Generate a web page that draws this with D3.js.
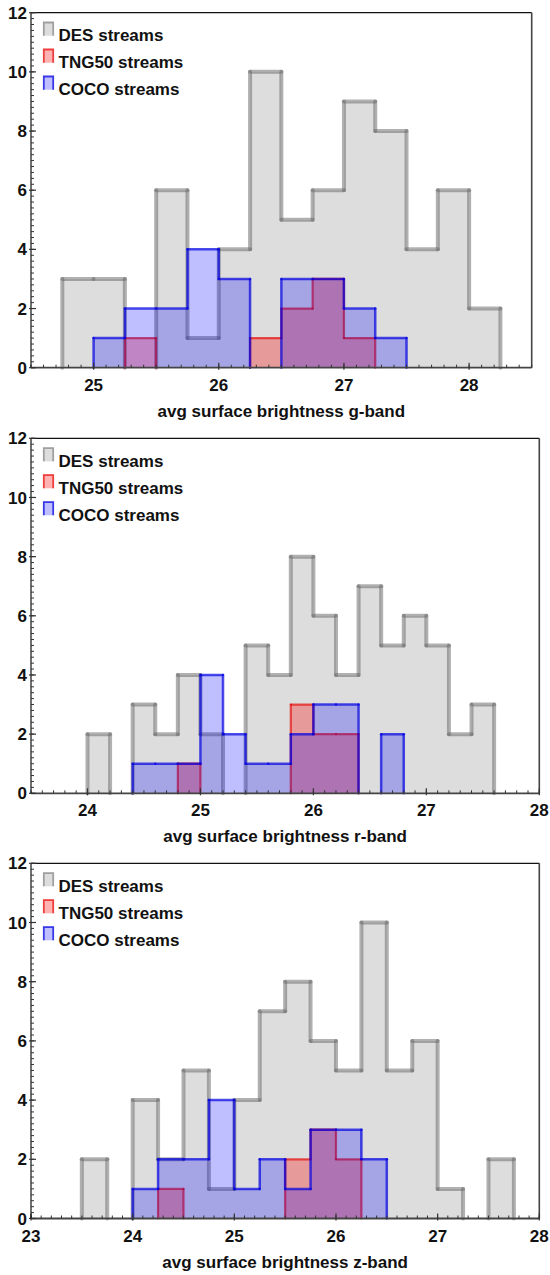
<!DOCTYPE html>
<html>
<head>
<meta charset="utf-8">
<script src="https://cdn.jsdelivr.net/npm/d3@7/dist/d3.min.js"></script>
<style>
  html, body { margin: 0; padding: 0; background: #fff; }
  svg { display: block; }
  text { font-family: "Liberation Sans", Arial, sans-serif; font-weight: bold; fill: #111; }
</style>
</head>
<body>
<svg id="chart" width="550" height="1275"></svg>
<script>
// ---- histogram data: bin lower edges (last entry closes the final bin) and counts ----
const gEdges = [24.75, 25.0, 25.25, 25.5, 25.75, 26.0, 26.25, 26.5, 26.75, 27.0, 27.25, 27.5, 27.75, 28.0, 28.25];
const gDES   = [3, 3, 0, 6, 1, 4, 10, 5, 6, 9, 8, 4, 6, 2];
const gTNG50 = [0, 0, 1, 0, 0, 0, 1, 2, 3, 1, 0, 0, 0, 0];
const gCOCO  = [0, 1, 2, 2, 4, 3, 0, 3, 3, 2, 1, 0, 0, 0];

const rEdges = [24.0, 24.2, 24.4, 24.6, 24.8, 25.0, 25.2, 25.4, 25.6, 25.8, 26.0, 26.2, 26.4, 26.6, 26.8, 27.0, 27.2, 27.4, 27.6];
const rDES   = [2, 0, 3, 2, 4, 2, 0, 5, 4, 8, 6, 4, 7, 5, 6, 5, 2, 3];
const rTNG50 = [0, 0, 0, 0, 1, 0, 0, 0, 0, 3, 2, 2, 0, 0, 0, 0, 0, 0];
const rCOCO  = [0, 0, 1, 1, 1, 4, 2, 1, 1, 2, 3, 3, 0, 2, 0, 0, 0, 0];

const zEdges = [23.5, 23.75, 24.0, 24.25, 24.5, 24.75, 25.0, 25.25, 25.5, 25.75, 26.0, 26.25, 26.5, 26.75, 27.0, 27.25, 27.5, 27.75];
const zDES   = [2, 0, 4, 2, 5, 1, 4, 7, 8, 6, 5, 10, 5, 6, 1, 0, 2];
const zTNG50 = [0, 0, 0, 1, 0, 0, 0, 0, 2, 3, 2, 0, 0, 0, 0, 0, 0];
const zCOCO  = [0, 0, 1, 2, 2, 4, 1, 2, 1, 3, 3, 2, 0, 0, 0, 0, 0];

const seriesNames = ["DES streams", "TNG50 streams", "COCO streams"];
const xTitles = ["avg surface brightness g-band", "avg surface brightness r-band", "avg surface brightness z-band"];
const xDomains = [[24.5, 28.5], [23.5, 28], [23, 28]];
const yDomain = [0, 12];

// ---- styles ----
const styles = [
  { fill: "rgba(128,128,128,0.27)", stroke: "rgba(100,100,100,0.5)", width: 4 },
  { fill: "rgba(255,0,0,0.30)",     stroke: "rgba(230,0,0,0.65)",    width: 2.2 },
  { fill: "rgba(0,0,255,0.25)",     stroke: "rgba(0,0,225,0.7)",     width: 2.5 }
];

// ---- panel layout ----
const panels = [
  { left: 31, right: 531.7, top: 12.7,  bottom: 367.7, edges: gEdges, series: [gDES, gTNG50, gCOCO] },
  { left: 31, right: 539.3, top: 438.3, bottom: 793.3, edges: rEdges, series: [rDES, rTNG50, rCOCO] },
  { left: 31, right: 539.3, top: 863.3, bottom: 1218.5, edges: zEdges, series: [zDES, zTNG50, zCOCO] }
];

const svg = d3.select("#chart");

panels.forEach((p, pi) => {
  const x = d3.scaleLinear().domain(xDomains[pi]).range([p.left, p.right]);
  const y = d3.scaleLinear().domain(yDomain).range([p.bottom, p.top]);
  const g = svg.append("g");

  // filled histograms + step outlines drawn segment by segment
  p.series.forEach((counts, si) => {
    const st = styles[si];
    const pts = counts.map((c, i) => [p.edges[i], c]);
    pts.push([p.edges[counts.length], counts[counts.length - 1]]);
    const area = d3.area()
      .x(d => x(d[0])).y0(y(0)).y1(d => y(d[1]))
      .curve(d3.curveStepAfter);
    g.append("path").attr("d", area(pts)).attr("fill", st.fill).attr("stroke", "none");

    const segs = [];
    counts.forEach((c, i) => {
      if (c > 0) segs.push([p.edges[i], c, p.edges[i + 1], c]);
    });
    for (let k = 0; k <= counts.length; k++) {
      const prev = k > 0 ? counts[k - 1] : 0;
      const next = k < counts.length ? counts[k] : 0;
      if (prev !== next) segs.push([p.edges[k], Math.min(prev, next), p.edges[k], Math.max(prev, next)]);
    }
    g.selectAll(null).data(segs).enter().append("line")
      .attr("x1", d => x(d[0])).attr("y1", d => y(d[1]))
      .attr("x2", d => x(d[2])).attr("y2", d => y(d[3]))
      .attr("stroke", st.stroke).attr("stroke-width", st.width)
      .attr("stroke-linecap", "round");
  });

  // frame: top and right borders
  g.append("line").attr("x1", p.left).attr("x2", p.right).attr("y1", p.top).attr("y2", p.top)
    .attr("stroke", "#111").attr("stroke-width", 1.2);
  g.append("line").attr("x1", p.right).attr("x2", p.right).attr("y1", p.top).attr("y2", p.bottom)
    .attr("stroke", "#444").attr("stroke-width", 1.6);

  // bottom axis
  const xd = xDomains[pi];
  g.append("line").attr("x1", p.left).attr("x2", p.right).attr("y1", p.bottom).attr("y2", p.bottom)
    .attr("stroke", "#444").attr("stroke-width", 1.8);
  const xMinor = d3.ticks(xd[0], xd[1], Math.round((xd[1] - xd[0]) * 10));
  g.selectAll(null).data(xMinor).enter().append("line")
    .attr("x1", d => x(d)).attr("x2", d => x(d))
    .attr("y1", p.bottom).attr("y2", p.bottom - 3)
    .attr("stroke", "#333").attr("stroke-width", 1);
  const xMajor = d3.ticks(xd[0], xd[1], Math.round(xd[1] - xd[0])).filter(v => Number.isInteger(v));
  g.selectAll(null).data(xMajor).enter().append("line")
    .attr("x1", d => x(d)).attr("x2", d => x(d))
    .attr("y1", p.bottom + 2).attr("y2", p.bottom - 5)
    .attr("stroke", "#333").attr("stroke-width", 1.2);
  g.selectAll(null).data(xMajor).enter().append("text")
    .attr("x", d => x(d)).attr("y", p.bottom + 23)
    .attr("text-anchor", "middle").attr("font-size", 17)
    .text(d => d);

  // left axis
  g.append("line").attr("x1", p.left).attr("x2", p.left).attr("y1", p.top).attr("y2", p.bottom)
    .attr("stroke", "#111").attr("stroke-width", 1.2);
  const yMinor = d3.ticks(yDomain[0], yDomain[1], 60);
  g.selectAll(null).data(yMinor).enter().append("line")
    .attr("x1", p.left).attr("x2", p.left + 3)
    .attr("y1", d => y(d)).attr("y2", d => y(d))
    .attr("stroke", "#333").attr("stroke-width", 1);
  const yMajor = d3.ticks(yDomain[0], yDomain[1], 6);
  g.selectAll(null).data(yMajor).enter().append("line")
    .attr("x1", p.left - 2).attr("x2", p.left + 5)
    .attr("y1", d => y(d)).attr("y2", d => y(d))
    .attr("stroke", "#333").attr("stroke-width", 1.2);
  g.selectAll(null).data(yMajor).enter().append("text")
    .attr("x", p.left - 4).attr("y", d => y(d)).attr("dy", "0.36em")
    .attr("text-anchor", "end").attr("font-size", 17)
    .text(d => d);

  // axis title
  g.append("text")
    .attr("x", (p.left + p.right) / 2).attr("y", p.bottom + 49)
    .attr("text-anchor", "middle").attr("font-size", 17)
    .text(xTitles[pi]);

  // legend
  const lg = g.append("g").attr("transform", `translate(${p.left + 12},${p.top + 9})`);
  seriesNames.forEach((name, si) => {
    const st = styles[si];
    const row = lg.append("g").attr("transform", `translate(0,${si * 27})`);
    row.append("rect").attr("x", 0).attr("y", 0).attr("width", 11).attr("height", 14)
      .attr("fill", st.fill);
    row.append("path").attr("d", "M0.8,14 V0.8 H10.2 V14")
      .attr("fill", "none").attr("stroke", st.stroke).attr("stroke-width", 1.8);
    row.append("text").attr("x", 15.5).attr("y", 19.3).attr("font-size", 17).text(name);
  });
});
</script>
</body>
</html>
